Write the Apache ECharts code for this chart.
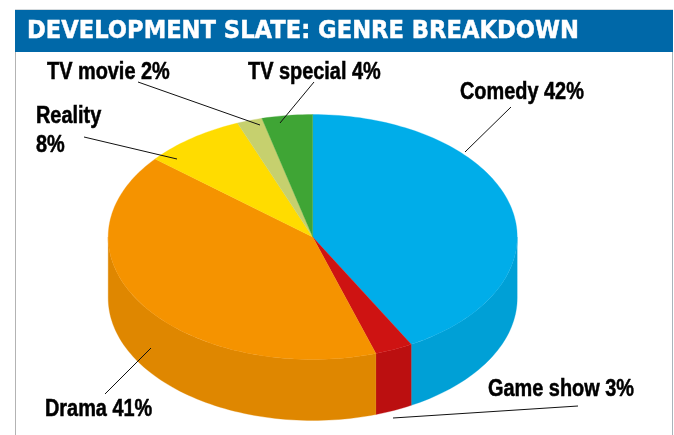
<!DOCTYPE html>
<html>
<head>
<meta charset="utf-8">
<style>
html, body { margin: 0; padding: 0; background: #fff; }
#chart { width: 674px; height: 435px; }
</style>
<script src="https://cdn.jsdelivr.net/npm/echarts@6/dist/echarts.min.js"></script>
</head>
<body>
<div id="chart"></div>
<script>
const titleText = 'DEVELOPMENT SLATE: GENRE BREAKDOWN';
const genres = ['Comedy', 'Game show', 'Drama', 'Reality', 'TV movie', 'TV special'];
const shares = [42, 3, 41, 8, 2, 4];
const topColors = ['#00ade9', '#ce1312', '#f59300', '#ffdc00', '#c6d06e', '#3fa535'];
const sideColors = ['#00a0d6', '#bb0f10', '#df8700', '#e6c600', '#b3bc63', '#399530'];

// pie geometry on the page
const pie = { cx: 312.7, cy: 237, rx: 204.5, ry: 122.5, depth: 61 };

// label anchor (left, baseline) and leader line per genre
const callouts = {
    'Comedy': { x: 460, y: 99, line: [511, 107, 465, 152] },
    'Game show': { x: 488, y: 396, line: [578, 406, 393, 418] },
    'Drama': { x: 45, y: 416, line: [105, 394, 151, 348] },
    'Reality': { x: 36, y: 123, line: [84, 137, 177, 159], breakLine: true },
    'TV movie': { x: 47, y: 79, line: [138, 82, 260, 125] },
    'TV special': { x: 248, y: 79, line: [314, 82, 280, 123] }
};

const total = shares.reduce((a, b) => a + b, 0);

// clock angle in degrees, 0 at 12 o'clock going clockwise
function rimPoint(deg, drop) {
    const r = deg * Math.PI / 180;
    return [pie.cx + pie.rx * Math.sin(r), pie.cy - pie.ry * Math.cos(r) + drop];
}

function arcPoints(from, to, drop) {
    const pts = [];
    const steps = Math.max(2, Math.ceil((to - from) / 1.5));
    for (let i = 0; i <= steps; i++) {
        pts.push(rimPoint(from + (to - from) * i / steps, drop));
    }
    return pts;
}

function renderSlice(params, api) {
    const i = params.dataIndex;
    const value = api.value(0);
    const before = shares.slice(0, i).reduce((a, b) => a + b, 0);
    const start = before / total * 360;
    const end = (before + value) / total * 360;
    const children = [];

    // the wall only shows on the front half of the rim
    const a = Math.max(start, 90);
    const b = Math.min(end, 270);
    if (b > a) {
        const wall = arcPoints(a, b, 0).concat(arcPoints(a, b, pie.depth).reverse());
        children.push({
            type: 'polygon',
            shape: { points: wall },
            style: { fill: sideColors[i], stroke: sideColors[i], lineWidth: 0.3 }
        });
    }
    children.push({
        type: 'polygon',
        shape: { points: [[pie.cx, pie.cy]].concat(arcPoints(start, end, 0)) },
        style: { fill: topColors[i], stroke: topColors[i], lineWidth: 0.3 }
    });
    return { type: 'group', children: children };
}

const labelGraphics = [];
genres.forEach((name, i) => {
    const c = callouts[name];
    labelGraphics.push({
        type: 'line',
        z: 10,
        shape: { x1: c.line[0], y1: c.line[1], x2: c.line[2], y2: c.line[3] },
        style: { stroke: '#111', lineWidth: 1 }
    });
    const text = c.breakLine ? name + '\n' + shares[i] + '%' : name + ' ' + shares[i] + '%';
    labelGraphics.push({
        type: 'text',
        z: 10,
        x: c.x,
        y: (c.breakLine ? c.y + 29 : c.y) + 8,
        scaleX: 0.865,
        style: {
            text: text,
            fill: '#000',
            stroke: '#000',
            lineWidth: 0.5,
            font: 'bold 23px "Liberation Sans"',
            lineHeight: 29,
            verticalAlign: 'bottom'
        }
    });
});

const chart = echarts.init(document.getElementById('chart'), null, { renderer: 'canvas' });
chart.setOption({
    animation: false,
    backgroundColor: '#fff',
    graphic: [
        // frame and title band
        { type: 'line', z: 1, shape: { x1: 15.5, y1: 10, x2: 15.5, y2: 435 }, style: { stroke: '#b3b3b3', lineWidth: 1 } },
        { type: 'line', z: 1, shape: { x1: 672.5, y1: 10, x2: 672.5, y2: 435 }, style: { stroke: '#a9b4ba', lineWidth: 1 } },
        { type: 'line', z: 1, shape: { x1: 15, y1: 9.5, x2: 673, y2: 9.5 }, style: { stroke: '#d5dadd', lineWidth: 1 } },
        { type: 'rect', z: 1, shape: { x: 15, y: 10, width: 658, height: 42 }, style: { fill: '#0068a8' } },
        {
            type: 'text',
            z: 2,
            x: 27,
            y: 19,
            scaleX: 0.905,
            style: { text: titleText, fill: '#fff', stroke: '#fff', lineWidth: 0.5, font: 'bold 25px "DejaVu Sans"' }
        }
    ].concat(labelGraphics),
    series: [{
        type: 'custom',
        coordinateSystem: 'none',
        silent: true,
        renderItem: renderSlice,
        data: shares.map(v => [v])
    }]
});
</script>
</body>
</html>
